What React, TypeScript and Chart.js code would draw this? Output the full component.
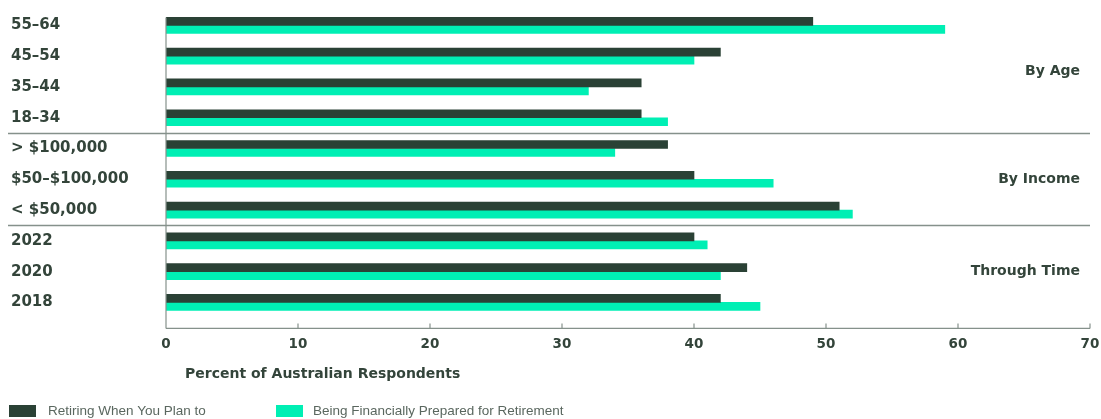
import React, { useEffect, useRef } from "react";
import { Chart, registerables } from "chart.js";

Chart.register(...registerables);

const categories = [
  "55–64",
  "45–54",
  "35–44",
  "18–34",
  "> $100,000",
  "$50–$100,000",
  "< $50,000",
  "2022",
  "2020",
  "2018",
];
const retiringWhenPlanned = [49, 42, 36, 36, 38, 40, 51, 40, 44, 42];
const financiallyPrepared = [59, 40, 32, 38, 34, 46, 52, 41, 42, 45];
const seriesNames = ["Retiring When You Plan to", "Being Financially Prepared for Retirement"];
const groupLabels = ["By Age", "By Income", "Through Time"];
const groupLabelRows = [1.5, 5, 8];
const groupSeparators = [3.5, 6.5];
const xTicks = [0, 10, 20, 30, 40, 50, 60, 70];
const axisTitle = "Percent of Australian Respondents";

const DARK = "#2a4135";
const GREEN = "#00efb4";
const TEXT = "#33443a";
const LINE = "#85918b";
const LABEL_FONT = "DejaVu Sans";

const decorPlugin = {
  id: "decor",
  afterDraw(chart: any) {
    const ctx = chart.ctx;
    const x = chart.scales.x;
    const y = chart.scales.y;
    const left = x.getPixelForValue(0);
    const right = x.getPixelForValue(70);
    const topBar = y.getPixelForValue(0) - 8;
    const axisY = y.getPixelForValue(categories.length - 1) + 26;
    ctx.save();
    ctx.strokeStyle = LINE;
    ctx.lineWidth = 1.2;
    // vertical axis
    ctx.beginPath();
    ctx.moveTo(left, topBar);
    ctx.lineTo(left, axisY);
    ctx.stroke();
    // horizontal axis
    ctx.beginPath();
    ctx.moveTo(left, axisY);
    ctx.lineTo(right, axisY);
    ctx.stroke();
    // tick marks
    xTicks.forEach((v) => {
      if (v === 0) return;
      const px = x.getPixelForValue(v);
      ctx.beginPath();
      ctx.moveTo(px, axisY - 5);
      ctx.lineTo(px, axisY);
      ctx.stroke();
    });
    // separators
    ctx.lineWidth = 1.5;
    groupSeparators.forEach((r) => {
      const py = Math.round(y.getPixelForValue(r)) + 0.5;
      ctx.beginPath();
      ctx.moveTo(8, py);
      ctx.lineTo(right, py);
      ctx.stroke();
    });
    // group labels
    ctx.fillStyle = TEXT;
    ctx.font = `bold 14px "${LABEL_FONT}"`;
    ctx.textAlign = "right";
    ctx.textBaseline = "middle";
    groupLabels.forEach((t, i) => {
      ctx.fillText(t, 1080, y.getPixelForValue(groupLabelRows[i]));
    });
    // axis title
    ctx.textAlign = "left";
    ctx.font = `bold 14px "${LABEL_FONT}"`;
    ctx.fillText(axisTitle, 185, 374);
    // legend
    const legY = 411;
    ctx.font = `13.5px "Liberation Sans"`;
    ctx.fillStyle = DARK;
    ctx.fillRect(9, 405, 27, 12);
    ctx.fillStyle = "#5a675f";
    ctx.fillText(seriesNames[0], 48, legY);
    ctx.fillStyle = GREEN;
    ctx.fillRect(276, 405, 27, 12);
    ctx.fillStyle = "#5a675f";
    ctx.fillText(seriesNames[1], 313, legY);
    ctx.restore();
  },
};

export default function App() {
  const ref = useRef<HTMLCanvasElement | null>(null);
  useEffect(() => {
    if (!ref.current) return;
    const chart = new Chart(ref.current, {
      type: "bar",
      data: {
        labels: categories,
        datasets: [
          {
            label: seriesNames[0],
            data: retiringWhenPlanned,
            backgroundColor: DARK,
            barThickness: 8,
          },
          {
            label: seriesNames[1],
            data: financiallyPrepared,
            backgroundColor: GREEN,
            barThickness: 8,
          },
        ],
      },
      options: {
        indexAxis: "y",
        animation: false,
        responsive: false,
        layout: { padding: { left: 11, top: 10, right: 11, bottom: 47 } },
        plugins: {
          legend: { display: false },
          tooltip: { enabled: false },
        },
        scales: {
          x: {
            min: 0,
            max: 70,
            ticks: {
              stepSize: 10,
              color: TEXT,
              font: { family: LABEL_FONT, weight: "bold", size: 13.5 },
              padding: 19,
            },
            grid: { display: false, drawTicks: false },
            border: { display: false },
            afterFit: (scale: any) => {
              scale.paddingRight = 0;
              scale.paddingLeft = 0;
            },
          },
          y: {
            ticks: {
              color: TEXT,
              font: { family: LABEL_FONT, weight: "bold", size: 15 },
              crossAlign: "far",
              padding: 0,
            },
            grid: { display: false, drawTicks: false },
            border: { display: false },
            afterFit: (scale: any) => {
              scale.width = 155;
              scale.paddingTop = 0;
              scale.paddingBottom = 0;
            },
          },
        },
      },
      plugins: [decorPlugin],
    });
    return () => chart.destroy();
  }, []);
  return (
    <div style={{ position: "fixed", left: 0, top: 0, width: 1101, height: 419, background: "#fff" }}>
      <canvas ref={ref} width={1101} height={419} />
    </div>
  );
}
